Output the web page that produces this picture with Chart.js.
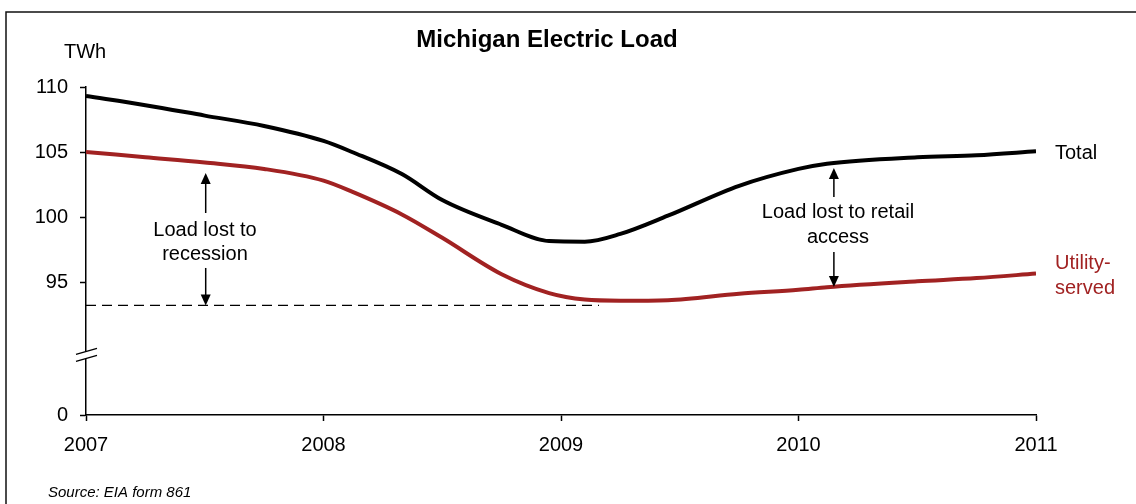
<!DOCTYPE html>
<html>
<head>
<meta charset="utf-8">
<script src="https://cdn.jsdelivr.net/npm/chart.js@4.4.1/dist/chart.umd.min.js"></script>
<style>
  html, body { margin: 0; padding: 0; background: #fff; }
  #wrap { width: 1136px; height: 504px; position: relative; }
</style>
</head>
<body>
<div id="wrap"><canvas id="load_chart"></canvas></div>
<script>
// Michigan electric load, TWh (read at fractional years)
const years = [2007.0, 2007.25, 2007.5, 2007.75, 2008.0, 2008.12, 2008.33, 2008.5, 2008.75, 2008.95,
  2009.1, 2009.25, 2009.45, 2009.75, 2010.0, 2010.12, 2010.5, 2010.75, 2011.0];
const totalLoad = [109.3, 108.6, 107.8, 107.0, 105.85, 105.0, 103.3, 101.3, 99.4, 98.15,
  98.1, 98.7, 100.1, 102.4, 103.7, 104.1, 104.6, 104.75, 105.05];
const utilityLoad = [105.0, 104.6, 104.2, 103.7, 102.8, 101.95, 100.2, 98.4, 95.6, 94.15,
  93.65, 93.56, 93.6, 94.1, 94.4, 94.6, 95.05, 95.3, 95.65];

// recession floor (dashed) and its extent
const floorLevel = 93.2;
const floorEnd = 2009.16;

// y axis is broken: the "0" tick sits just below the 95 tick
const axisFloor = 84.77;
const yTicks = [axisFloor, 95, 100, 105, 110];
const xTicks = [2007, 2008, 2009, 2010, 2011];

const RED = '#A12222';
const FONT = '"Liberation Sans", Arial, sans-serif';

const toPoints = (xs, ys) => xs.map((x, i) => ({ x: x, y: ys[i] }));

// arrows: [year, from, to]
const arrows = [
  [2007.504, 100.31, 103.38],
  [2007.504, 96.08, floorLevel],
  [2010.149, 101.54, 103.77],
  [2010.149, 97.31, 94.62]
];

const drawArrow = (ctx, x, y1, y2) => {
  const dir = y2 > y1 ? 1 : -1;
  ctx.beginPath();
  ctx.moveTo(x, y1);
  ctx.lineTo(x, y2 - dir * 8);
  ctx.stroke();
  ctx.beginPath();
  ctx.moveTo(x, y2);
  ctx.lineTo(x - 5, y2 - dir * 11);
  ctx.lineTo(x + 5, y2 - dir * 11);
  ctx.closePath();
  ctx.fill();
};

const extras = {
  id: 'extras',
  afterDraw(chart) {
    const ctx = chart.ctx;
    const xs = chart.scales.x;
    const ys = chart.scales.y;
    ctx.save();

    // frame
    ctx.strokeStyle = '#111';
    ctx.lineWidth = 1.5;
    ctx.beginPath();
    ctx.moveTo(1136, 12);
    ctx.lineTo(6, 12);
    ctx.lineTo(6, 504);
    ctx.stroke();

    // axis break
    const bx = xs.getPixelForValue(2007);
    const by = ys.getPixelForValue(89.4);
    ctx.fillStyle = '#fff';
    ctx.beginPath();
    ctx.moveTo(bx - 10, by - 0.5);
    ctx.lineTo(bx + 11, by - 6.5);
    ctx.lineTo(bx + 11, by + 0.5);
    ctx.lineTo(bx - 10, by + 6.5);
    ctx.closePath();
    ctx.fill();
    ctx.strokeStyle = '#000';
    ctx.lineWidth = 1.3;
    ctx.beginPath();
    ctx.moveTo(bx - 10, by - 0.5);
    ctx.lineTo(bx + 11, by - 6.5);
    ctx.moveTo(bx - 10, by + 6.5);
    ctx.lineTo(bx + 11, by + 0.5);
    ctx.stroke();

    // arrows
    ctx.fillStyle = '#000';
    ctx.lineWidth = 1.5;
    arrows.forEach(([yr, a, b]) => {
      drawArrow(ctx, xs.getPixelForValue(yr), ys.getPixelForValue(a), ys.getPixelForValue(b));
    });

    // texts
    ctx.textBaseline = 'alphabetic';
    ctx.fillStyle = '#000';
    ctx.font = 'bold 24px ' + FONT;
    ctx.textAlign = 'center';
    ctx.fillText('Michigan Electric Load', 547, 47);

    ctx.font = '20px ' + FONT;
    ctx.textAlign = 'left';
    ctx.fillText('TWh', 64, 58);

    ctx.textAlign = 'center';
    ctx.fillText('Load lost to', 205, 236);
    ctx.fillText('recession', 205, 260);
    ctx.fillText('Load lost to retail', 838, 218);
    ctx.fillText('access', 838, 243);

    ctx.textAlign = 'left';
    ctx.fillText('Total', 1055, 159);
    ctx.fillStyle = RED;
    ctx.fillText('Utility-', 1055, 269);
    ctx.fillText('served', 1055, 294);

    ctx.fillStyle = '#000';
    ctx.font = 'italic 15px ' + FONT;
    ctx.fillText('Source: EIA form 861', 48, 497);
    ctx.restore();
  }
};

new Chart(document.getElementById('load_chart'), {
  type: 'line',
  data: {
    datasets: [
      {
        label: 'Total',
        data: toPoints(years, totalLoad),
        borderColor: '#000',
        borderWidth: 4,
        pointRadius: 0,
        cubicInterpolationMode: 'monotone'
      },
      {
        label: 'Utility-served',
        data: toPoints(years, utilityLoad),
        borderColor: RED,
        borderWidth: 4,
        pointRadius: 0,
        cubicInterpolationMode: 'monotone'
      },
      {
        label: 'floor',
        data: [{ x: 2007, y: floorLevel }, { x: floorEnd, y: floorLevel }],
        borderColor: '#000',
        borderWidth: 1.3,
        borderDash: [10, 6],
        pointRadius: 0
      }
    ]
  },
  options: {
    responsive: true,
    maintainAspectRatio: false,
    animation: false,
    layout: { padding: { left: 0, right: 100, top: 87, bottom: 0 } },
    plugins: {
      legend: { display: false },
      tooltip: { enabled: false }
    },
    scales: {
      x: {
        type: 'linear',
        min: 2007,
        max: 2011,
        afterBuildTicks: (scale) => { scale.ticks = xTicks.map(v => ({ value: v })); },
        afterFit: (scale) => { scale.height = 89; },
        ticks: {
          color: '#000',
          font: { family: FONT, size: 20 },
          padding: 12,
          maxRotation: 0,
          callback: (v) => String(v)
        },
        grid: { drawOnChartArea: false, color: '#000', tickLength: 6, tickWidth: 1.5 },
        border: { color: '#000', width: 1.5 }
      },
      y: {
        type: 'linear',
        min: axisFloor,
        max: 110,
        afterBuildTicks: (scale) => { scale.ticks = yTicks.map(v => ({ value: v })); },
        afterFit: (scale) => { scale.width = 86; },
        ticks: {
          color: '#000',
          font: { family: FONT, size: 20 },
          padding: 12,
          callback: (v) => (v < 90 ? '0' : String(v))
        },
        grid: { drawOnChartArea: false, color: '#000', tickLength: 6, tickWidth: 1.5 },
        border: { color: '#000', width: 1.5 }
      }
    }
  },
  plugins: [extras]
});
</script>
</body>
</html>
